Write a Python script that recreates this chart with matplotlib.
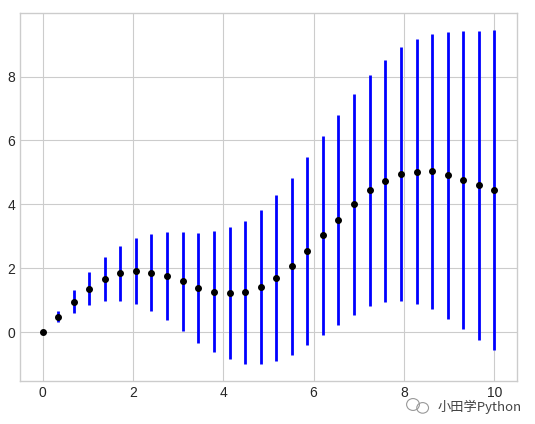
import numpy as np
import matplotlib.pyplot as plt
from matplotlib.patches import Ellipse

# values
x = [0.00, 0.34, 0.69, 1.03, 1.38, 1.72, 2.07, 2.41, 2.76, 3.10,
     3.45, 3.79, 4.14, 4.48, 4.83, 5.17, 5.52, 5.86, 6.21, 6.55,
     6.90, 7.24, 7.59, 7.93, 8.28, 8.62, 8.97, 9.31, 9.66, 10.00]
y = [0.00, 0.49, 0.96, 1.37, 1.67, 1.85, 1.91, 1.87, 1.75, 1.59,
     1.40, 1.27, 1.22, 1.25, 1.41, 1.69, 2.06, 2.54, 3.03, 3.52,
     4.00, 4.44, 4.74, 4.94, 5.02, 5.03, 4.91, 4.77, 4.60, 4.46]
dy = [0.00, 0.17, 0.35, 0.52, 0.69, 0.86, 1.03, 1.21, 1.38, 1.55,
      1.72, 1.90, 2.07, 2.24, 2.41, 2.59, 2.76, 2.93, 3.10, 3.28,
      3.45, 3.62, 3.79, 3.97, 4.14, 4.31, 4.48, 4.66, 4.83, 5.00]

plt.style.use('seaborn-v0_8-whitegrid')

fig = plt.figure(figsize=(5.35, 4.24), dpi=100)
ax = fig.add_axes([0.0374, 0.1014, 0.9286, 0.8676])

# black dots with thick blue error bars, no caps
ax.errorbar(x, y, yerr=dy, fmt='o', color='black', ecolor='blue',
            elinewidth=2, capsize=0, markersize=4)

ax.set_xticks([0, 2, 4, 6, 8, 10])
ax.set_yticks([0, 2, 4, 6, 8])
ax.tick_params(labelsize=10)
for s in ax.spines.values():
    s.set_visible(True)
    s.set_color('#cccccc')

# watermark
fig.text(0.818, 0.040, '小田学Python', fontsize=9.5, color='#444444',
         family=['Noto Sans CJK SC', 'DejaVu Sans'], va='center')
fig.patches.append(Ellipse((0.772, 0.046), 0.024, 0.028, fill=False,
                           ec='#999999', lw=0.8, transform=fig.transFigure))
fig.patches.append(Ellipse((0.790, 0.038), 0.022, 0.025, fill=False,
                           ec='#999999', lw=0.8, transform=fig.transFigure))

plt.savefig('out.png', dpi=100)
